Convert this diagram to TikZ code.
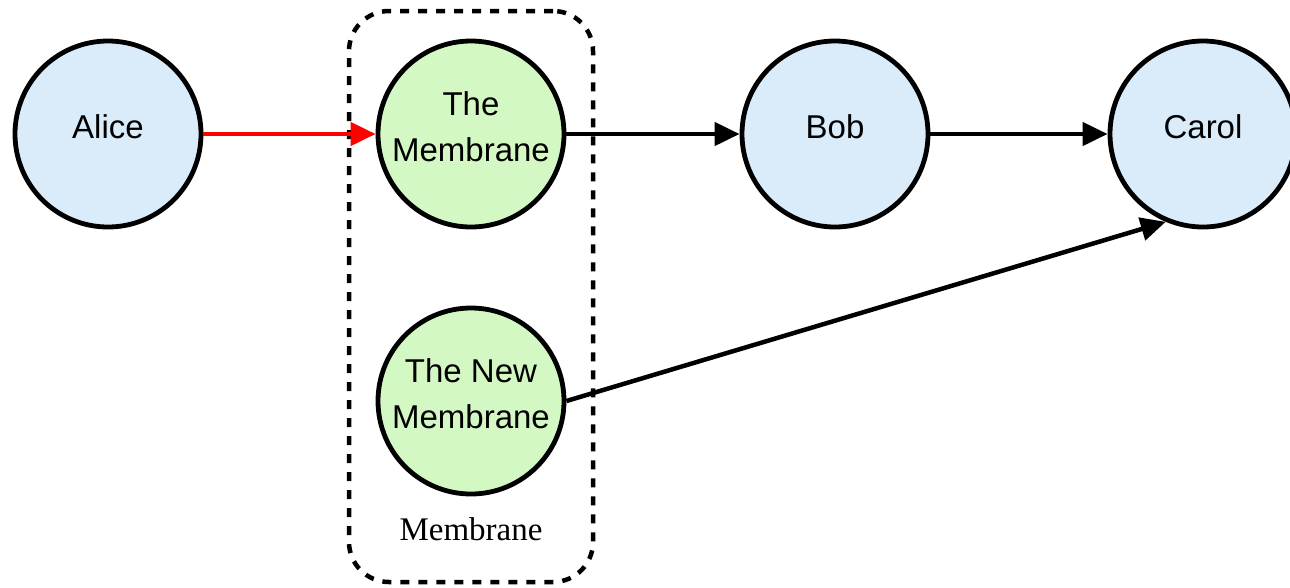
\documentclass[tikz,border=0pt]{standalone}
\usepackage{fontspec}
\setmainfont{Liberation Sans}
\newfontfamily\serifface{Liberation Serif}
\usetikzlibrary{arrows.meta}
\definecolor{personfill}{RGB}{218,235,250}
\definecolor{membranefill}{RGB}{212,248,196}
\begin{document}
\begin{tikzpicture}[x=1pt, y=-1pt,
  agent/.style={circle, draw, line width=4.8pt, minimum size=186pt, inner sep=0pt,
    align=center, font=\fontsize{33}{46}\selectfont, text height=23pt, text depth=14pt},
  twolines/.style={text height=69pt},
  person/.style={agent, fill=personfill},
  membrane/.style={agent, fill=membranefill},
  link/.style={line width=4.5pt, -{Triangle[length=25pt, width=23pt]}},
  groupbox/.style={draw, line width=4.5pt, dash pattern=on 9pt off 9pt,
    rounded corners=40pt, minimum width=244pt, minimum height=571pt, inner sep=0pt},
  grouplabel/.style={font=\serifface\fontsize{33}{38}\selectfont, anchor=base}
]
\useasboundingbox (0,0) rectangle (1290,587);
\clip (0,0) rectangle (1290,587);

% dashed group around the two membrane nodes
\node[groupbox] (group) at (471,296.5) {};
\node[grouplabel] (grouplbl) at (471,540) {Membrane};

% participants
\node[person]   (alice)  at (108,134)  {Alice};
\node[membrane, twolines] (mem) at (471,134) {The\\Membrane};
\node[person]   (bob)    at (835,134)  {Bob};
\node[person]   (carol)  at (1203,134) {Carol};
\node[membrane, twolines] (newmem) at (471,401) {The New\\Membrane};

% message flow
\draw[link, red] (alice) -- (mem);
\draw[link] (mem) -- (bob);
\draw[link] (bob) -- (carol);
\draw[link] (newmem.east) -- (carol.247);
\end{tikzpicture}
\end{document}
